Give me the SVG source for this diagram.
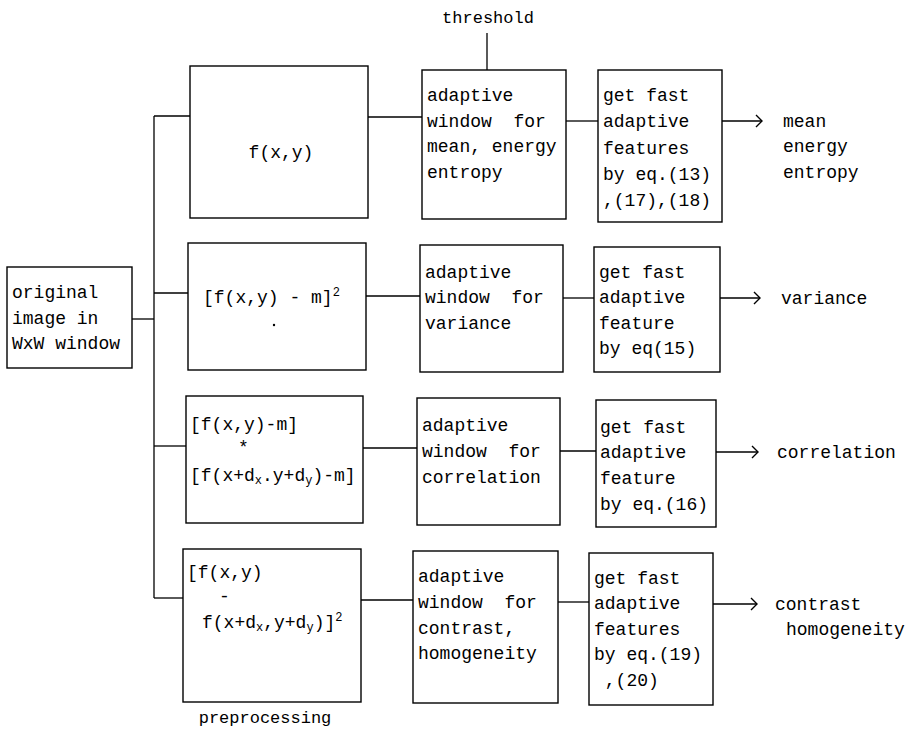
<svg xmlns="http://www.w3.org/2000/svg" width="909" height="739" viewBox="0 0 909 739">
<style>
.b{fill:none;stroke:#000;stroke-width:1.4}
.c{fill:none;stroke:#000;stroke-width:1.3}
text{font-family:"Liberation Mono","DejaVu Sans Mono",monospace;font-size:18px;fill:#000}
.s{font-size:12px}
</style>
<defs>
<marker id="ar" markerWidth="10" markerHeight="14" refX="8" refY="7" orient="auto" markerUnits="userSpaceOnUse">
<polyline points="2,1 8,7 2,13" fill="none" stroke="#000" stroke-width="1.4"/>
</marker>
</defs>
<rect width="909" height="739" fill="#fff"/>

<g id="connectors">
<line class="c" x1="487" y1="33" x2="487" y2="70"/>
<line class="c" x1="154" y1="116" x2="154" y2="598"/>
<line class="c" x1="132" y1="319" x2="154" y2="319"/>
<line class="c" x1="154" y1="116" x2="190" y2="116"/>
<line class="c" x1="154" y1="293" x2="188" y2="293"/>
<line class="c" x1="154" y1="446" x2="186" y2="446"/>
<line class="c" x1="154" y1="598" x2="183" y2="598"/>
<line class="c" x1="368" y1="117" x2="422" y2="117"/>
<line class="c" x1="366" y1="296" x2="420" y2="296"/>
<line class="c" x1="363" y1="448" x2="417" y2="448"/>
<line class="c" x1="361" y1="600" x2="413" y2="600"/>
<line class="c" x1="566" y1="121" x2="598" y2="121"/>
<line class="c" x1="563" y1="298" x2="594" y2="298"/>
<line class="c" x1="560" y1="451" x2="596" y2="451"/>
<line class="c" x1="558" y1="602" x2="589" y2="602"/>
<line class="c" x1="722" y1="121" x2="762" y2="121" marker-end="url(#ar)"/>
<line class="c" x1="720" y1="298" x2="760" y2="298" marker-end="url(#ar)"/>
<line class="c" x1="716" y1="452" x2="758" y2="452" marker-end="url(#ar)"/>
<line class="c" x1="713" y1="604" x2="757" y2="604" marker-end="url(#ar)"/>
</g>

<g id="threshold">
<text x="488" y="23" text-anchor="middle" style="font-size:17px">threshold</text>
</g>

<g id="original">
<rect class="b" x="7" y="267" width="125" height="101"/>
<text x="12" y="298">original</text>
<text x="12" y="324">image in</text>
<text x="12" y="349">WxW window</text>
</g>

<g id="pre1">
<rect class="b" x="190" y="66" width="178" height="152"/>
<text x="281" y="158" text-anchor="middle">f(x,y)</text>
</g>
<g id="pre2">
<rect class="b" x="188" y="243" width="178" height="127"/>
<text x="203" y="303">[f(x,y) - m]<tspan class="s" dy="-7">2</tspan></text>
<circle cx="274" cy="325" r="1.2" fill="#000"/>
</g>
<g id="pre3">
<rect class="b" x="186" y="396" width="177" height="127"/>
<text x="190" y="430">[f(x,y)-m]</text>
<text x="238" y="453">*</text>
<text x="190" y="481">[f(x+d<tspan class="s" dy="3">x</tspan><tspan dy="-3">.y+d</tspan><tspan class="s" dy="3">y</tspan><tspan dy="-3">)-m]</tspan></text>
</g>
<g id="pre4">
<rect class="b" x="183" y="549" width="178" height="153"/>
<text x="187" y="578">[f(x,y)</text>
<text x="219" y="602">-</text>
<text x="202" y="628">f(x+d<tspan class="s" dy="3">x</tspan><tspan dy="-3">,y+d</tspan><tspan class="s" dy="3">y</tspan><tspan dy="-3">)]</tspan><tspan class="s" dy="-7">2</tspan></text>
</g>
<g id="preprocessing">
<text x="265" y="723" text-anchor="middle" style="font-size:17px">preprocessing</text>
</g>

<g id="win1">
<rect class="b" x="422" y="70" width="144" height="149"/>
<text x="427" y="101">adaptive</text>
<text x="427" y="127" xml:space="preserve">window  for</text>
<text x="427" y="152">mean, energy</text>
<text x="427" y="178">entropy</text>
</g>
<g id="win2">
<rect class="b" x="420" y="245" width="143" height="127"/>
<text x="425" y="278">adaptive</text>
<text x="425" y="303" xml:space="preserve">window  for</text>
<text x="425" y="329">variance</text>
</g>
<g id="win3">
<rect class="b" x="417" y="398" width="143" height="127"/>
<text x="422" y="431">adaptive</text>
<text x="422" y="457" xml:space="preserve">window  for</text>
<text x="422" y="483">correlation</text>
</g>
<g id="win4">
<rect class="b" x="413" y="551" width="145" height="152"/>
<text x="418" y="582">adaptive</text>
<text x="418" y="608" xml:space="preserve">window  for</text>
<text x="418" y="634">contrast,</text>
<text x="418" y="659">homogeneity</text>
</g>

<g id="feat1">
<rect class="b" x="598" y="70" width="124" height="152"/>
<text x="603" y="101">get fast</text>
<text x="603" y="127">adaptive</text>
<text x="603" y="154">features</text>
<text x="603" y="180">by eq.(13)</text>
<text x="603" y="206">,(17),(18)</text>
</g>
<g id="feat2">
<rect class="b" x="594" y="247" width="126" height="125"/>
<text x="599" y="278">get fast</text>
<text x="599" y="303">adaptive</text>
<text x="599" y="329">feature</text>
<text x="599" y="354">by eq(15)</text>
</g>
<g id="feat3">
<rect class="b" x="596" y="400" width="120" height="127"/>
<text x="600" y="433">get fast</text>
<text x="600" y="458">adaptive</text>
<text x="600" y="484">feature</text>
<text x="600" y="510">by eq.(16)</text>
</g>
<g id="feat4">
<rect class="b" x="589" y="553" width="124" height="152"/>
<text x="594" y="584">get fast</text>
<text x="594" y="609">adaptive</text>
<text x="594" y="635">features</text>
<text x="594" y="660">by eq.(19)</text>
<text x="594" y="686" xml:space="preserve"> ,(20)</text>
</g>

<g id="out1">
<text x="783" y="127">mean</text>
<text x="783" y="152">energy</text>
<text x="783" y="178">entropy</text>
</g>
<g id="out2">
<text x="781" y="304">variance</text>
</g>
<g id="out3">
<text x="777" y="458">correlation</text>
</g>
<g id="out4">
<text x="775" y="610">contrast</text>
<text x="786" y="635">homogeneity</text>
</g>
</svg>
